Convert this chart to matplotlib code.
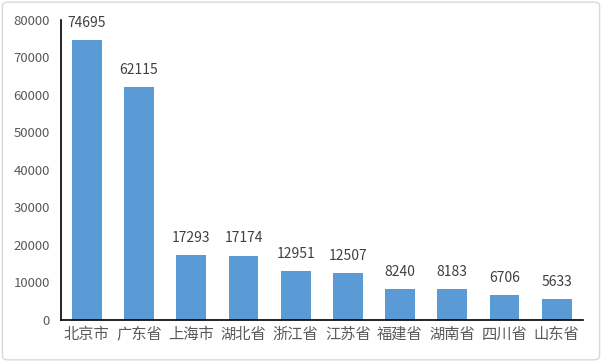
import matplotlib
matplotlib.use("Agg")
import matplotlib.pyplot as plt
from matplotlib.patches import FancyBboxPatch

categories = ["北京市", "广东省", "上海市", "湖北省", "浙江省", "江苏省", "福建省", "湖南省", "四川省", "山东省"]
values = [74695, 62115, 17293, 17174, 12951, 12507, 8240, 8183, 6706, 5633]
yticks = [0, 10000, 20000, 30000, 40000, 50000, 60000, 70000, 80000]

plt.rcParams['font.family'] = ['Noto Sans CJK SC', 'DejaVu Sans']

fig = plt.figure(figsize=(6.02, 3.62), dpi=100)
fig.patches.append(FancyBboxPatch((0.004, 0.006), 0.992, 0.988, boxstyle="round,pad=0,rounding_size=0.01",
                                  transform=fig.transFigure, facecolor='white', edgecolor='#d9d9d9',
                                  linewidth=1.0, zorder=-10))
ax = fig.add_axes([0.101, 0.116, 0.867, 0.829])
ax.set_facecolor('none')
x = range(len(categories))
bars = ax.bar(x, values, width=0.57, color='#5b9bd5')
for xi, v in zip(x, values):
    ax.text(xi, v + 2700, str(v), ha='center', va='bottom', fontsize=10, color='#404040')
ax.set_xlim(-0.5, len(categories) - 0.5)
ax.set_ylim(0, 80000)
ax.set_yticks(yticks)
ax.set_yticklabels([str(t) for t in yticks], fontsize=9.5, color='#595959')
ax.set_xticks(list(x))
ax.set_xticklabels(categories, fontsize=11, color='#595959')
ax.tick_params(axis='both', length=0, pad=8)
ax.tick_params(axis='x', pad=4)
for s in ['top', 'right']:
    ax.spines[s].set_visible(False)
ax.spines['left'].set_color('black')
ax.spines['bottom'].set_color('black')
ax.spines['left'].set_linewidth(1.2)
ax.spines['bottom'].set_linewidth(1.2)
fig.savefig("out.png", dpi=100)
